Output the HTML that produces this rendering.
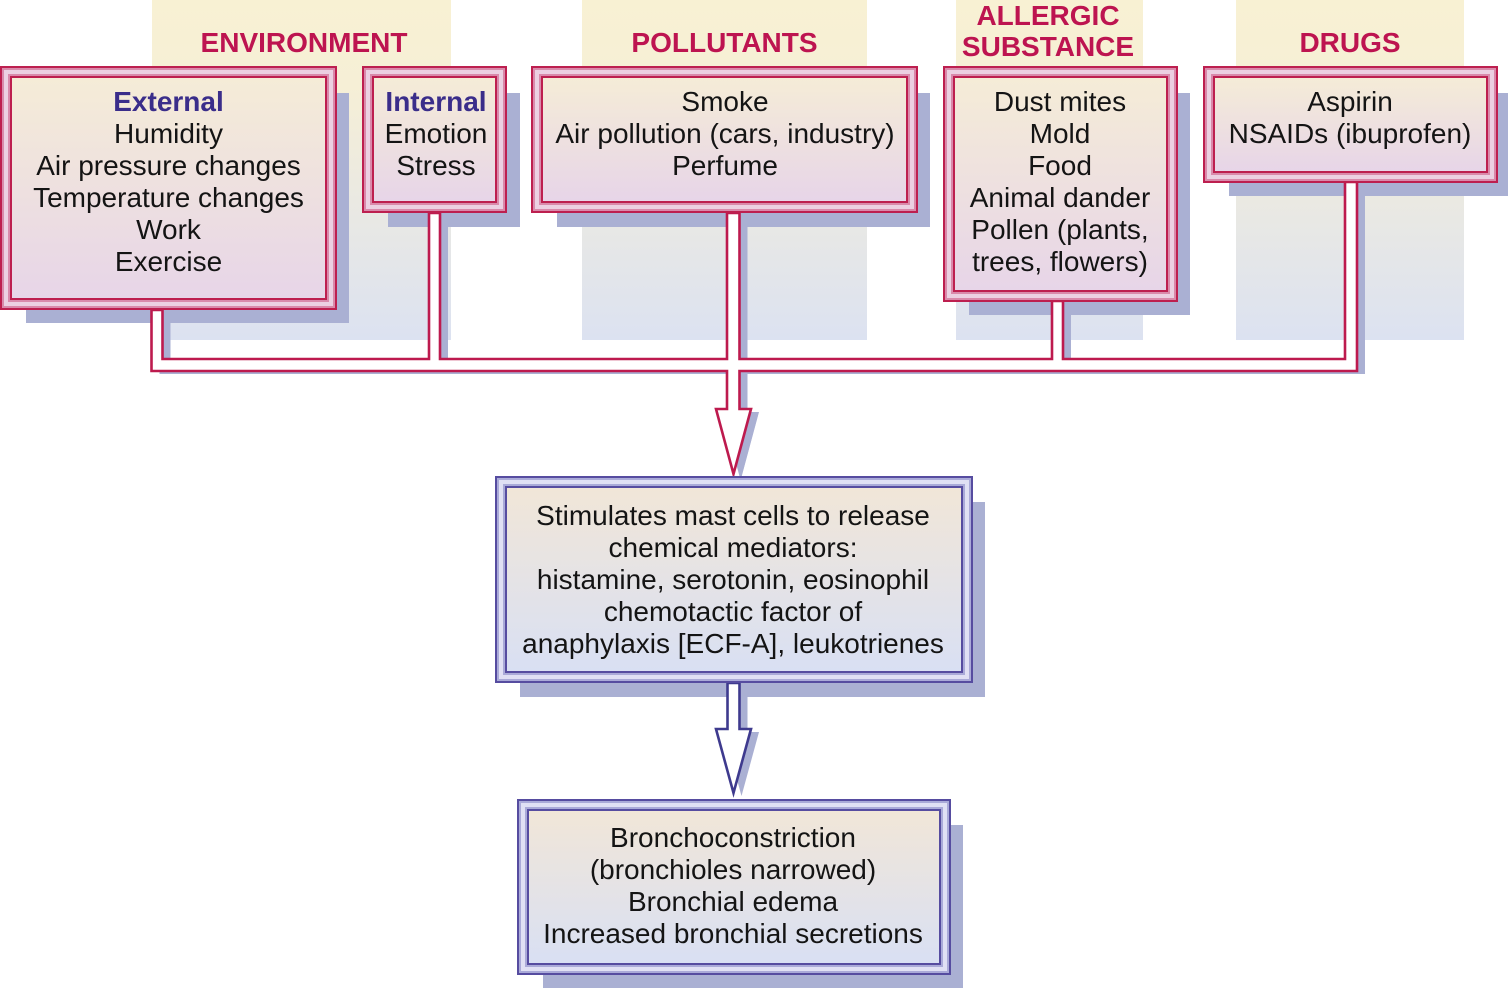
<!DOCTYPE html>
<html>
<head>
<meta charset="utf-8">
<style>
html,body{margin:0;padding:0;background:#fff;}
svg{display:block;}
text{font-family:"Liberation Sans",Arial,Helvetica,sans-serif;font-size:28px;}
.h{font-weight:bold;fill:#bd1450;}
.t{fill:#141414;}
.b{font-weight:bold;fill:#3a2d8a;}
</style>
</head>
<body>
<svg width="1508" height="988" viewBox="0 0 1508 988" xmlns="http://www.w3.org/2000/svg">
<defs>
  <linearGradient id="col" x1="0" y1="0" x2="0" y2="1">
    <stop offset="0" stop-color="#f8f1d3"/>
    <stop offset="0.25" stop-color="#f6efd6"/>
    <stop offset="1" stop-color="#dce2f1"/>
  </linearGradient>
  <linearGradient id="rf" x1="0" y1="0" x2="0" y2="1">
    <stop offset="0" stop-color="#f5ecd7"/>
    <stop offset="1" stop-color="#e7d5e8"/>
  </linearGradient>
  <linearGradient id="bf" x1="0" y1="0" x2="0" y2="1">
    <stop offset="0" stop-color="#f1e6d8"/>
    <stop offset="1" stop-color="#d9e0f3"/>
  </linearGradient>
</defs>

<!-- columns -->
<rect x="152" y="0" width="299" height="340" fill="url(#col)"/>
<rect x="582" y="0" width="285" height="340" fill="url(#col)"/>
<rect x="956" y="0" width="187" height="340" fill="url(#col)"/>
<rect x="1236" y="0" width="228" height="340" fill="url(#col)"/>

<!-- box shadows -->
<g fill="#aab0d3">
  <rect x="26" y="93" width="323" height="230"/>
  <rect x="388" y="93" width="132" height="134"/>
  <rect x="557" y="93" width="373" height="134"/>
  <rect x="969" y="93" width="221" height="222"/>
  <rect x="1229" y="93" width="281" height="103"/>
  <rect x="520" y="502" width="465" height="195"/>
  <rect x="543" y="825" width="420" height="170"/>
</g>

<!-- pipe shadows -->
<g fill="#aab0d3" transform="translate(8,3)">
  <path d="M151.5,310 L151.5,371 L727,371 L727,409 L716,409 L733.5,474 L751,409 L739.5,409 L739.5,371 L1357,371 L1357,182 L1345,182 L1345,359 L1063,359 L1063,301 L1052,301 L1052,359 L739.5,359 L739.5,213 L727,213 L727,359 L440,359 L440,213 L429,213 L429,359 L162.5,359 L162.5,310 Z"/>
  <path d="M727.5,683 L727.5,729 L716,729 L733.5,793 L751,729 L739.5,729 L739.5,683 Z"/>
</g>
<path fill="#aab0d3" transform="translate(7,6)" d="M716,409 L733.5,474 L751,409 Z"/>

<!-- pipes -->
<path fill="#fff" stroke="#bd1a4e" stroke-width="2.6" stroke-linejoin="miter" d="M151.5,310 L151.5,371 L727,371 L727,409 L716,409 L733.5,474 L751,409 L739.5,409 L739.5,371 L1357,371 L1357,182 L1345,182 L1345,359 L1063,359 L1063,301 L1052,301 L1052,359 L739.5,359 L739.5,213 L727,213 L727,359 L440,359 L440,213 L429,213 L429,359 L162.5,359 L162.5,310 Z"/>
<path fill="#fff" stroke="#3e3a8e" stroke-width="2.6" stroke-linejoin="miter" d="M727.5,683 L727.5,729 L716,729 L733.5,793 L751,729 L739.5,729 L739.5,683 Z"/>

<!-- red boxes: External -->
<g>
  <rect x="0" y="66" width="337" height="244" fill="#bd1f4f"/>
  <rect x="2" y="68" width="333" height="240" fill="#d98aab"/>
  <rect x="4" y="70" width="329" height="236" fill="#ecd0e2"/>
  <rect x="8" y="74" width="321" height="228" fill="#d98aab"/>
  <rect x="10" y="76" width="317" height="224" fill="#bd1f4f"/>
  <rect x="12" y="78" width="313" height="220" fill="url(#rf)"/>
</g>
<!-- Internal -->
<g>
  <rect x="362" y="66" width="145" height="147" fill="#bd1f4f"/>
  <rect x="364" y="68" width="141" height="143" fill="#d98aab"/>
  <rect x="366" y="70" width="137" height="139" fill="#ecd0e2"/>
  <rect x="370" y="74" width="129" height="131" fill="#d98aab"/>
  <rect x="372" y="76" width="125" height="127" fill="#bd1f4f"/>
  <rect x="374" y="78" width="121" height="123" fill="url(#rf)"/>
</g>
<!-- Pollutants -->
<g>
  <rect x="531" y="66" width="387" height="147" fill="#bd1f4f"/>
  <rect x="533" y="68" width="383" height="143" fill="#d98aab"/>
  <rect x="535" y="70" width="379" height="139" fill="#ecd0e2"/>
  <rect x="539" y="74" width="371" height="131" fill="#d98aab"/>
  <rect x="541" y="76" width="367" height="127" fill="#bd1f4f"/>
  <rect x="543" y="78" width="363" height="123" fill="url(#rf)"/>
</g>
<!-- Allergic -->
<g>
  <rect x="943" y="66" width="235" height="236" fill="#bd1f4f"/>
  <rect x="945" y="68" width="231" height="232" fill="#d98aab"/>
  <rect x="947" y="70" width="227" height="228" fill="#ecd0e2"/>
  <rect x="951" y="74" width="219" height="220" fill="#d98aab"/>
  <rect x="953" y="76" width="215" height="216" fill="#bd1f4f"/>
  <rect x="955" y="78" width="211" height="212" fill="url(#rf)"/>
</g>
<!-- Drugs -->
<g>
  <rect x="1203" y="66" width="295" height="117" fill="#bd1f4f"/>
  <rect x="1205" y="68" width="291" height="113" fill="#d98aab"/>
  <rect x="1207" y="70" width="287" height="109" fill="#ecd0e2"/>
  <rect x="1211" y="74" width="279" height="101" fill="#d98aab"/>
  <rect x="1213" y="76" width="275" height="97" fill="#bd1f4f"/>
  <rect x="1215" y="78" width="271" height="93" fill="url(#rf)"/>
</g>

<!-- blue boxes: middle -->
<g>
  <rect x="495" y="476" width="478" height="207" fill="#564ca0"/>
  <rect x="497" y="478" width="474" height="203" fill="#aaaad8"/>
  <rect x="499" y="480" width="470" height="199" fill="#e0e0f4"/>
  <rect x="503" y="484" width="462" height="191" fill="#aaaad8"/>
  <rect x="505" y="486" width="458" height="187" fill="#564ca0"/>
  <rect x="507" y="488" width="454" height="183" fill="url(#bf)"/>
</g>
<!-- bottom -->
<g>
  <rect x="517" y="799" width="434" height="176" fill="#564ca0"/>
  <rect x="519" y="801" width="430" height="172" fill="#aaaad8"/>
  <rect x="521" y="803" width="426" height="168" fill="#e0e0f4"/>
  <rect x="525" y="807" width="418" height="160" fill="#aaaad8"/>
  <rect x="527" y="809" width="414" height="156" fill="#564ca0"/>
  <rect x="529" y="811" width="410" height="152" fill="url(#bf)"/>
</g>

<!-- headers -->
<text class="h" x="304" y="52" text-anchor="middle">ENVIRONMENT</text>
<text class="h" x="724.5" y="52" text-anchor="middle">POLLUTANTS</text>
<text class="h" x="1048" y="25" text-anchor="middle">ALLERGIC</text>
<text class="h" x="1048" y="56" text-anchor="middle">SUBSTANCE</text>
<text class="h" x="1350" y="52" text-anchor="middle">DRUGS</text>

<!-- External -->
<g text-anchor="middle">
  <text class="b" x="168.5" y="111">External</text>
  <text class="t" x="168.5" y="143">Humidity</text>
  <text class="t" x="168.5" y="175">Air pressure changes</text>
  <text class="t" x="168.5" y="207">Temperature changes</text>
  <text class="t" x="168.5" y="239">Work</text>
  <text class="t" x="168.5" y="271">Exercise</text>

  <text class="b" x="436" y="111">Internal</text>
  <text class="t" x="436" y="143">Emotion</text>
  <text class="t" x="436" y="175">Stress</text>

  <text class="t" x="725" y="111">Smoke</text>
  <text class="t" x="725" y="143">Air pollution (cars, industry)</text>
  <text class="t" x="725" y="175">Perfume</text>

  <text class="t" x="1060" y="111">Dust mites</text>
  <text class="t" x="1060" y="143">Mold</text>
  <text class="t" x="1060" y="175">Food</text>
  <text class="t" x="1060" y="207">Animal dander</text>
  <text class="t" x="1060" y="239">Pollen (plants,</text>
  <text class="t" x="1060" y="271">trees, flowers)</text>

  <text class="t" x="1350" y="111">Aspirin</text>
  <text class="t" x="1350" y="143">NSAIDs (ibuprofen)</text>

  <text class="t" x="733" y="525">Stimulates mast cells to release</text>
  <text class="t" x="733" y="557">chemical mediators:</text>
  <text class="t" x="733" y="589">histamine, serotonin, eosinophil</text>
  <text class="t" x="733" y="621">chemotactic factor of</text>
  <text class="t" x="733" y="653">anaphylaxis [ECF-A], leukotrienes</text>

  <text class="t" x="733" y="847">Bronchoconstriction</text>
  <text class="t" x="733" y="879">(bronchioles narrowed)</text>
  <text class="t" x="733" y="911">Bronchial edema</text>
  <text class="t" x="733" y="943">Increased bronchial secretions</text>
</g>
</svg>
</body>
</html>
